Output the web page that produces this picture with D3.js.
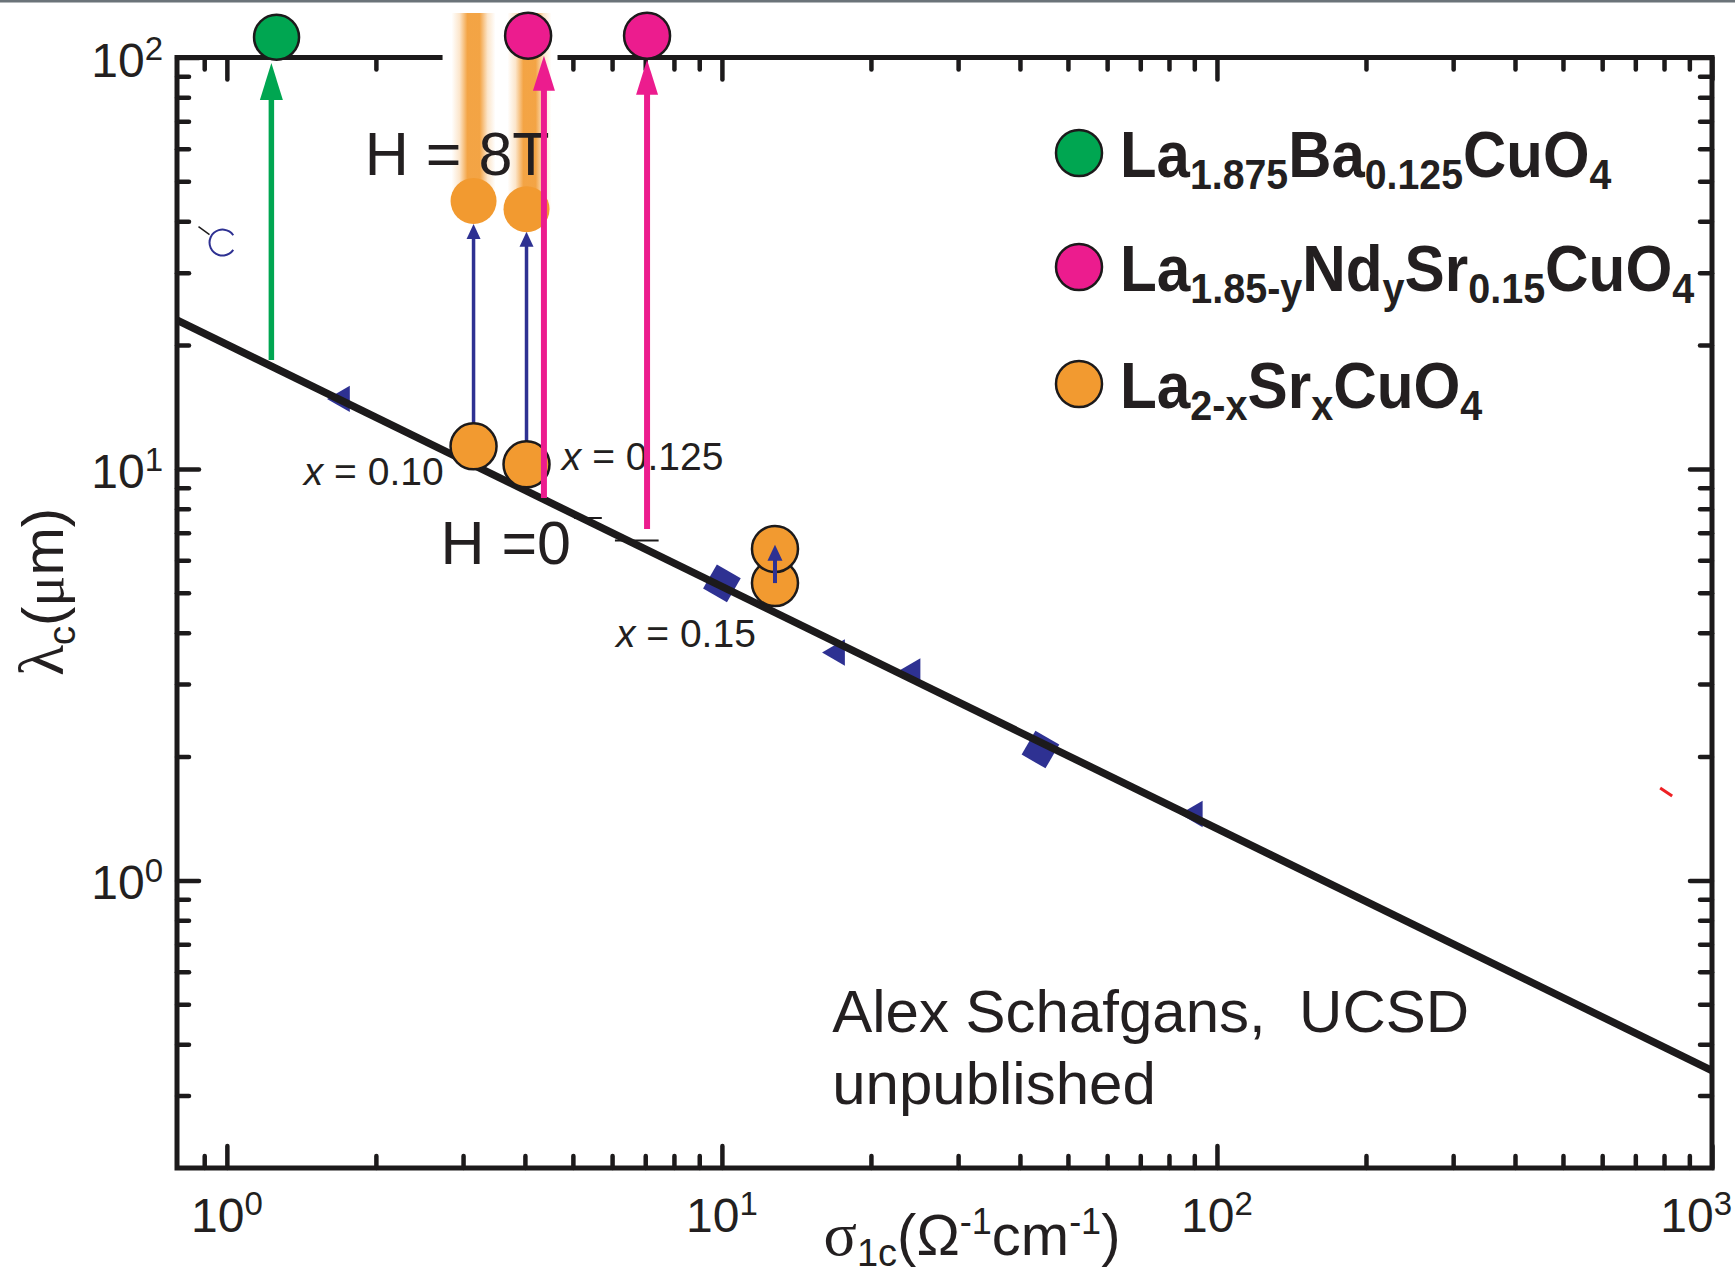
<!DOCTYPE html>
<html>
<head>
<meta charset="utf-8">
<script src="https://cdn.jsdelivr.net/npm/d3@7"></script>
<style>
  body { margin: 0; background: #fff; }
  svg { display: block; }
  text { font-family: "Liberation Sans", Arial, sans-serif; fill: #231f20; }
</style>
</head>
<body>
<div id="chart"></div>
<script>
// ---- values (sigma_1c in 1/(Ohm cm), lambda_c in um) ----
const xDomain = [0.793, 1000];
const yDomain = [0.2, 100];
const xTicksMajor = [1, 10, 100, 1000];
const xTickLabels = ["10^{0}", "10^{1}", "10^{2}", "10^{3}"];
const yTicksMajor = [1, 10, 100];
const yTickLabels = ["10^{0}", "10^{1}", "10^{2}"];

// universal scaling line
const fitLine = [{s: 0.793, l: 23.0}, {s: 1000, l: 0.345}];

// older data, mostly hidden under the line
const blueSymbols = [
  {s: 1.71, l: 14.8, kind: "tri"},
  {s: 10.0, l: 5.27, kind: "hex"},
  {s: 17.1, l: 3.58, kind: "tri"},
  {s: 24.3, l: 3.22, kind: "tri"},
  {s: 44.0, l: 2.08, kind: "hex"},
  {s: 90.3, l: 1.45, kind: "tri"}
];
const blueOpen = [{s: 0.98, l: 35.5}];
const redMark = [{s: 808, l: 1.64}];
const lineDashes = [{s0: 5.03, s1: 5.72, l: 7.6}, {s0: 6.08, s1: 7.45, l: 6.7}];

// La1.875Ba0.125CuO4
const lbcoPoints = [{s: 1.26, l: 112}];
const lbcoArrows = [{s: 1.23, from: 18.4, to: 97}];

// La1.85-yNdySr0.15CuO4
const lnscoPoints = [{s: 4.06, l: 113}, {s: 7.06, l: 113}];
const lnscoArrows = [{s: 4.37, from: 8.5, to: 101}, {s: 7.06, from: 7.15, to: 98.7}];

// La2-xSrxCuO4
const lscoH0 = [{s: 3.15, l: 11.35}, {s: 4.03, l: 10.26}, {s: 12.8, l: 5.28}];
const lscoH8Glow = [{s: 3.15, l: 44.8}, {s: 4.03, l: 42.8}];
const lscoH8 = [{s: 12.8, l: 6.39}];
const fieldArrows = [
  {s: 3.15, from: 12.86, to: 39.4},
  {s: 4.03, from: 11.63, to: 37.7},
  {s: 12.8, from: 5.28, to: 6.54}
];

const notes = [
  {s: 1.90, l: 51.8, text: "H = 8T", size: 61},
  {s: 2.70, l: 5.88, text: "H =0", size: 61},
  {s: 1.43, l: 9.14, text: "*x* = 0.10", size: 39},
  {s: 4.75, l: 9.94, text: "*x* = 0.125", size: 39},
  {s: 6.11, l: 3.70, text: "*x* = 0.15", size: 39},
  {s: 16.7, l: 0.428, text: "Alex Schafgans,\u00a0\u00a0UCSD", size: 60},
  {s: 16.7, l: 0.286, text: "unpublished", size: 60}
];

const legendNames = [
  "La_{1.875}Ba_{0.125}CuO_{4}",
  "La_{1.85-y}Nd_{y}Sr_{0.15}CuO_{4}",
  "La_{2-x}Sr_{x}CuO_{4}"
];

// ---- styling ----
const INK = "#1c1a1b";
const GREEN = "#00a651", PINK = "#ec1c8e", ORANGE = "#f29a30", BLUE = "#2e3192";

const W = 1735, H = 1279;
const M = {left: 177, right: 1712, top: 57.5, bottom: 1168};

const svg = d3.select("#chart").append("svg").attr("width", W).attr("height", H);
svg.append("rect").attr("width", W).attr("height", H).attr("fill", "#fff");
svg.append("rect").attr("width", W).attr("height", 2.5).attr("fill", "#6b7379");

const x = d3.scaleLog().domain(xDomain).range([M.left, M.right]);
const y = d3.scaleLog().domain(yDomain).range([M.bottom, M.top]);

// rich text: _{sub}, ^{sup}, *italic*
function rich(text, str, o) {
  const re = /([_^])\{([^}]*)\}|\*([^*]+)\*|([^_^*]+)/g;
  let m, shift = 0;
  while ((m = re.exec(str))) {
    const t = text.append("tspan");
    let target = 0;
    if (m[1]) {
      target = m[1] === "_" ? o.sub : -o.sup;
      t.style("font-size", o.small + "px").text(m[2]);
    } else if (m[3]) {
      t.style("font-style", "italic").text(m[3]);
    } else {
      t.text(m[4]);
    }
    t.attr("dy", target - shift);
    shift = target;
  }
  return text;
}

// ---- axes ----
const isMajor = v => Math.abs(Math.log10(v) - Math.round(Math.log10(v))) < 1e-9;
const xMinor = x.ticks().filter(v => !isMajor(v) && x(v) - M.left > 8);
const yMinor = y.ticks().filter(v => !isMajor(v) && M.bottom - y(v) > 8);

function tickLayer(axis, tr) {
  const g = svg.append("g").attr("transform", tr).call(axis);
  g.select(".domain").remove();
  g.selectAll(".tick text").remove();
  g.selectAll(".tick line")
    .attr("stroke", INK).attr("stroke-width", 4.5).attr("stroke-linecap", "round");
}
[
  [d3.axisBottom, x, `translate(0,${M.bottom})`],
  [d3.axisTop, x, `translate(0,${M.top})`],
  [d3.axisLeft, y, `translate(${M.left},0)`],
  [d3.axisRight, y, `translate(${M.right},0)`]
].forEach(([fn, sc, tr]) => {
  tickLayer(fn(sc).tickValues(sc === x ? xMinor : yMinor).tickSize(-12).tickFormat(""), tr);
  tickLayer(fn(sc).tickValues(sc === x ? xTicksMajor : yTicksMajor).tickSize(-22).tickFormat(""), tr);
});

svg.append("path")
  .attr("d", `M${M.left},${M.top}H${M.right}V${M.bottom}H${M.left}Z`)
  .attr("fill", "none").attr("stroke", INK).attr("stroke-width", 5)
  .attr("stroke-linejoin", "miter");

const tickOpt = {small: 33, sup: 17, sub: 0};
xTicksMajor.forEach((v, i) => {
  const t = svg.append("text").attr("x", x(v)).attr("y", 1232)
    .attr("text-anchor", "middle").style("font-size", "48px");
  rich(t, xTickLabels[i], tickOpt);
  const b = t.node().getBBox();
  if (b.x + b.width > W - 3) t.attr("x", x(v) - (b.x + b.width - (W - 3)));
});
yTicksMajor.forEach((v, i) => {
  const t = svg.append("text").attr("x", 163).attr("y", y(v) + 19)
    .attr("text-anchor", "end").style("font-size", "48px");
  rich(t, yTickLabels[i], tickOpt);
});

// axis titles
const xt = svg.append("text").attr("x", 972).attr("y", 1255)
  .attr("text-anchor", "middle").style("font-size", "58px");
xt.append("tspan").style("font-family", "'Liberation Serif', serif").style("font-size", "62px").text("σ");
xt.append("tspan").attr("dy", 11).style("font-size", "38px").text("1c");
xt.append("tspan").attr("dy", -11).text("(Ω");
xt.append("tspan").attr("dy", -21).style("font-size", "36px").text("-1");
xt.append("tspan").attr("dy", 21).text("cm");
xt.append("tspan").attr("dy", -21).style("font-size", "36px").text("-1");
xt.append("tspan").attr("dy", 21).text(")");

const yt = svg.append("text").attr("transform", "translate(63,592) rotate(-90)")
  .attr("text-anchor", "middle").style("font-size", "58px");
yt.append("tspan").style("font-family", "'Liberation Serif', serif").style("font-size", "64px").text("λ");
yt.append("tspan").attr("dy", 12).style("font-size", "38px").text("c");
yt.append("tspan").attr("dy", -12).text("(");
yt.append("tspan").style("font-family", "'Liberation Serif', serif").text("μ");
yt.append("tspan").text("m)");

// ---- glow streaks above the 8 T points (they hide the top axis there) ----
const defs = svg.append("defs");
const grad = defs.append("linearGradient").attr("id", "glow");
[[0, 0], [0.18, 0.25], [0.36, 0.9], [0.64, 0.9], [0.82, 0.25], [1, 0]].forEach(([o, a]) =>
  grad.append("stop").attr("offset", o).attr("stop-color", ORANGE).attr("stop-opacity", a));

const gapL = x(lscoH8Glow[0].s) - 31, gapR = x(lscoH8Glow[lscoH8Glow.length - 1].s) + 31;
svg.append("rect").attr("x", gapL).attr("y", 13).attr("width", gapR - gapL).attr("height", 62)
  .attr("fill", "#fff");
svg.selectAll(".glow").data(lscoH8Glow).join("rect")
  .attr("x", (d, i) => x(d.s) - 22 + i * 3).attr("y", 13)
  .attr("width", 44).attr("height", d => y(d.l) - 13)
  .attr("fill", "url(#glow)");

// ---- old data under the line ----
const hex = d3.symbol().type(d3.symbolSquare).size(760);
const tri = d3.symbol().type(d3.symbolTriangle).size(300);
svg.selectAll(".blue").data(blueSymbols).join("path")
  .attr("transform", d => `translate(${x(d.s)},${y(d.l)}) rotate(${d.kind === "hex" ? 30 : -90})`)
  .attr("d", d => d.kind === "hex" ? hex() : tri())
  .attr("fill", BLUE);

svg.selectAll(".openc").data(blueOpen).join("path")
  .attr("d", d3.arc()({innerRadius: 12, outerRadius: 14, startAngle: 0.6, endAngle: Math.PI * 2 - 0.6}))
  .attr("transform", d => `translate(${x(d.s)},${y(d.l)}) rotate(90)`)
  .attr("fill", BLUE);
svg.selectAll(".openctick").data(blueOpen).join("line")
  .attr("x1", d => x(d.s) - 24).attr("y1", d => y(d.l) - 16)
  .attr("x2", d => x(d.s) - 13).attr("y2", d => y(d.l) - 8)
  .attr("stroke", INK).attr("stroke-width", 1.5);

svg.selectAll(".red").data(redMark).join("line")
  .attr("x1", d => x(d.s) - 6).attr("y1", d => y(d.l) - 4)
  .attr("x2", d => x(d.s) + 6).attr("y2", d => y(d.l) + 4)
  .attr("stroke", "#ee2024").attr("stroke-width", 3);

// fit line
svg.append("path").datum(fitLine)
  .attr("d", d3.line().x(d => x(d.s)).y(d => y(d.l)))
  .attr("stroke", INK).attr("stroke-width", 7.5).attr("fill", "none");

svg.selectAll(".dash").data(lineDashes).join("line")
  .attr("x1", d => x(d.s0)).attr("x2", d => x(d.s1))
  .attr("y1", d => y(d.l)).attr("y2", d => y(d.l))
  .attr("stroke", INK).attr("stroke-width", 2);

// ---- annotations ----
notes.forEach(n => {
  const t = svg.append("text").attr("x", x(n.s)).attr("y", y(n.l)).style("font-size", n.size + "px");
  rich(t, n.text, {small: n.size, sub: 0, sup: 0});
});

// ---- arrows and points ----
function arrows(data, color, w, headL, headW) {
  const g = svg.append("g");
  g.selectAll("line").data(data).join("line")
    .attr("x1", d => x(d.s)).attr("x2", d => x(d.s))
    .attr("y1", d => y(d.from)).attr("y2", d => y(d.to) + headL * 0.7)
    .attr("stroke", color).attr("stroke-width", w);
  g.selectAll("path").data(data).join("path")
    .attr("d", d => {
      const px = x(d.s), py = y(d.to);
      return `M${px},${py}L${px - headW / 2},${py + headL}L${px + headW / 2},${py + headL}Z`;
    })
    .attr("fill", color);
}
function dots(data, color, r, outline) {
  svg.append("g").selectAll("circle").data(data).join("circle")
    .attr("cx", d => x(d.s)).attr("cy", d => y(d.l)).attr("r", r)
    .attr("fill", color)
    .attr("stroke", outline ? INK : "none").attr("stroke-width", 2.5);
}

arrows(lbcoArrows, GREEN, 5.5, 37, 23);
arrows(fieldArrows.slice(0, 2), BLUE, 3.5, 15, 14);
dots(lscoH8Glow, ORANGE, 23, false);
dots(lscoH0, ORANGE, 23, true);
dots(lscoH8, ORANGE, 23, true);
arrows(fieldArrows.slice(2), BLUE, 4, 16, 15);
arrows(lnscoArrows, PINK, 6, 35, 22);
dots(lnscoPoints, PINK, 23, true);
dots(lbcoPoints, GREEN, 22.5, true);

// ---- legend ----
const legendColors = [GREEN, PINK, ORANGE];
const legendWidths = [492, 575, 363];
legendNames.forEach((name, i) => {
  const cy = [153, 267, 384][i];
  svg.append("circle").attr("cx", 1079).attr("cy", cy).attr("r", 23)
    .attr("fill", legendColors[i]).attr("stroke", INK).attr("stroke-width", 2.5);
  const g = svg.append("g").attr("transform", `translate(1120,${cy + 24})`);
  const t = g.append("text").style("font-size", "64px").style("font-weight", "bold");
  rich(t, name, {small: 42, sub: 12, sup: 0});
  const b = t.node().getBBox();
  g.attr("transform", `translate(${1120 - b.x * legendWidths[i] / b.width},${cy + 24}) scale(${legendWidths[i] / b.width},1)`);
});
</script>
</body>
</html>
